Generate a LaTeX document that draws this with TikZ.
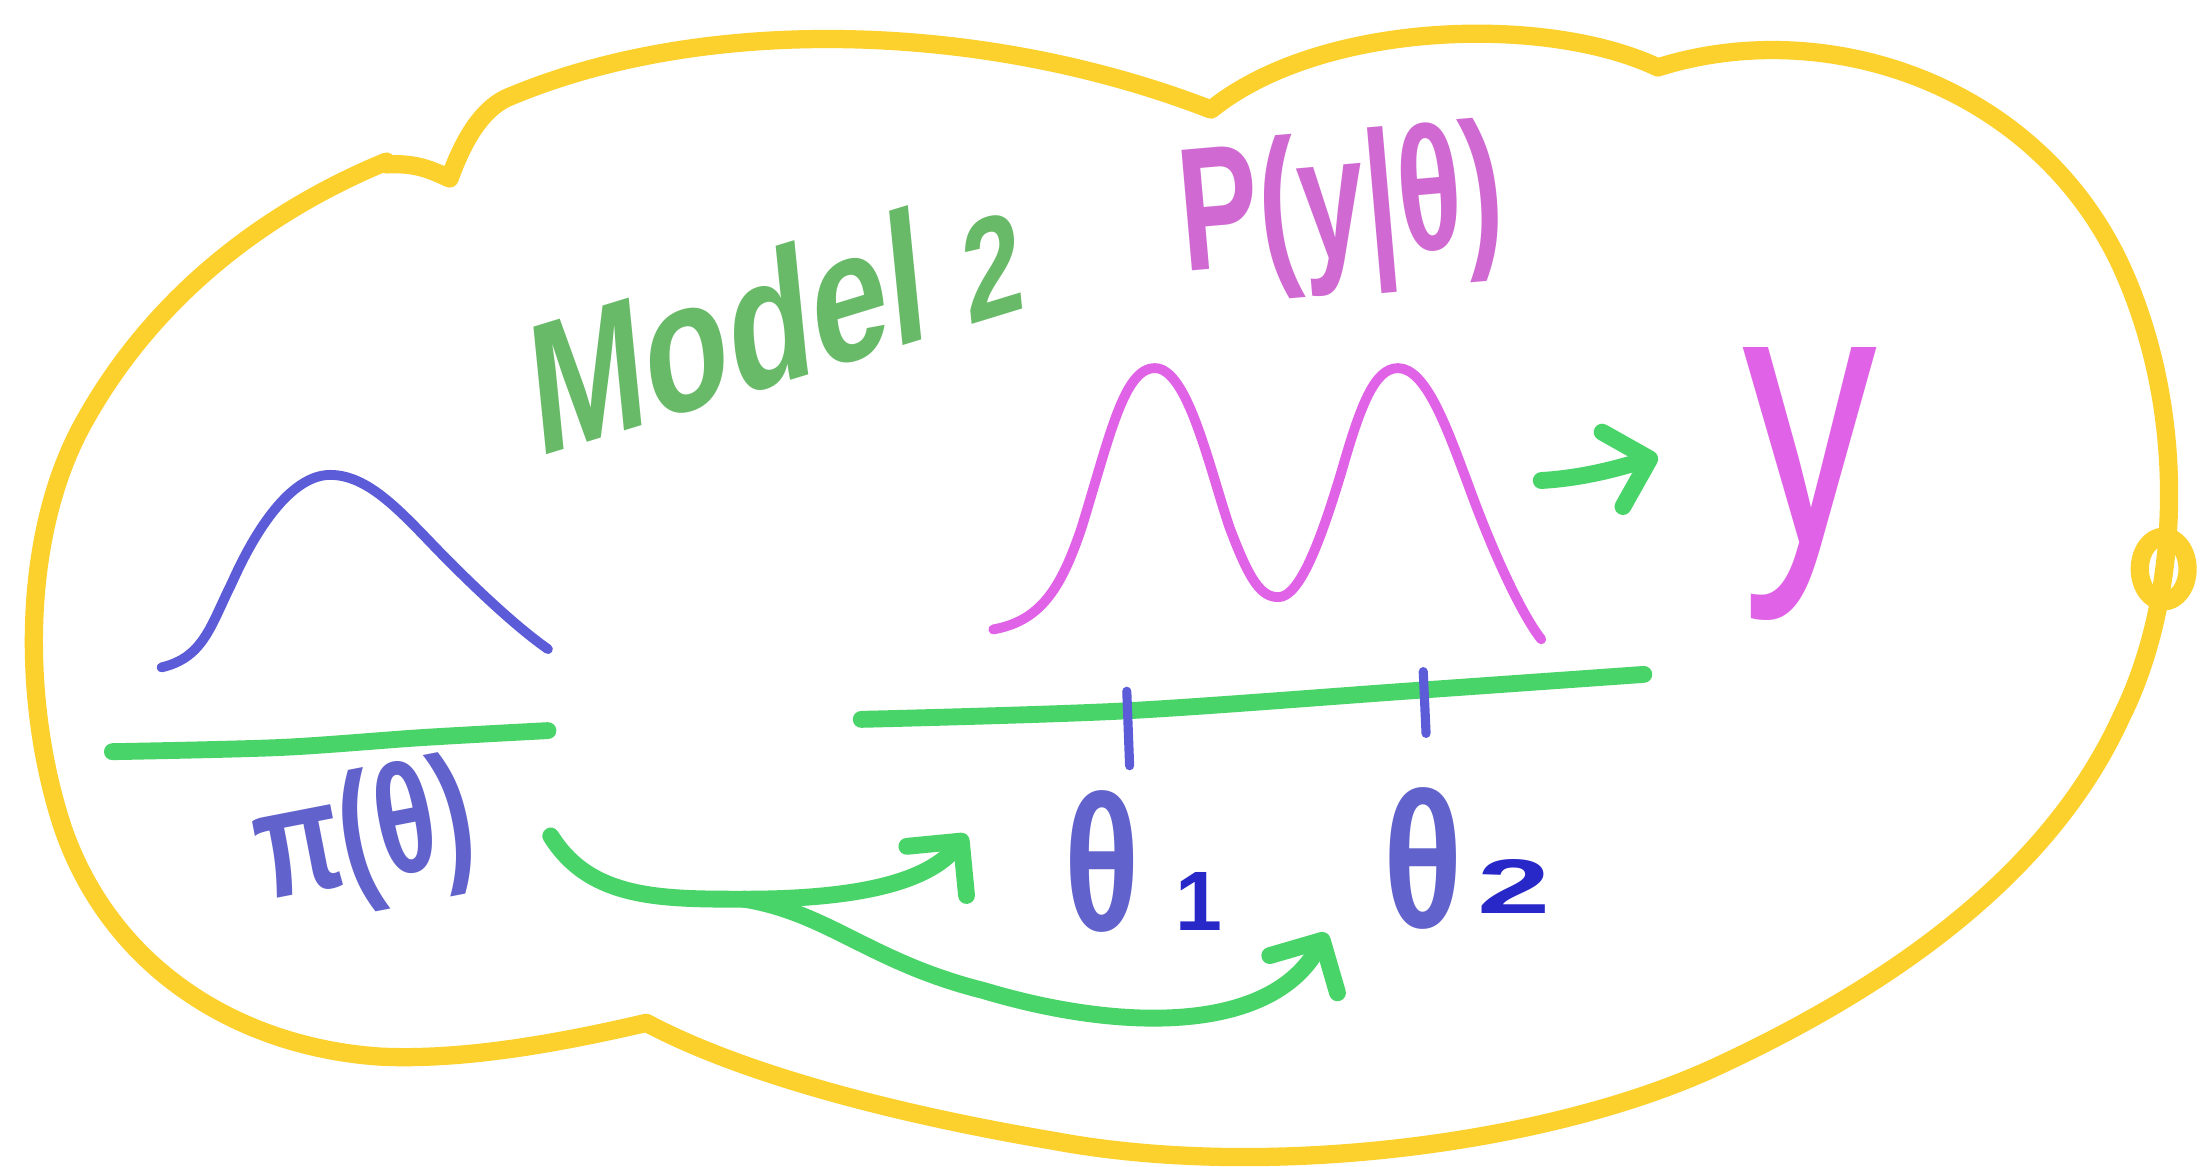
\documentclass[tikz,border=0pt]{standalone}
\usepackage{fontspec}
\setmainfont{Liberation Sans}
\usetikzlibrary{arrows.meta}
\definecolor{cloudyellow}{HTML}{FCD02D}
\definecolor{arrowgreen}{HTML}{48D468}
\definecolor{titlegreen}{HTML}{68BA68}
\definecolor{curveblue}{HTML}{5C5CD8}
\definecolor{textblue}{HTML}{6262CC}
\definecolor{darkblue}{HTML}{2828C8}
\definecolor{curvemag}{HTML}{E062E6}
\definecolor{textmag}{HTML}{D06AD2}
\begin{document}
\begin{tikzpicture}[x=0.01405cm,y=-0.01405cm,line cap=round,line join=round,
  cloudline/.style={draw=cloudyellow,line width=5.2pt},
  flow/.style={draw=arrowgreen,line width=4.8pt},
  flowarrow/.style={flow,-{Straight Barb[length=11pt,width=22pt,line cap=round,line join=round]}},
  bluecurve/.style={draw=curveblue,line width=2.8pt},
  magcurve/.style={draw=curvemag,line width=2.8pt},
  tickmark/.style={draw=curveblue,line width=2.6pt},
  lbl/.style={inner sep=0pt,outer sep=0pt,font=\bfseries}]
\useasboundingbox[fill=white] (0,0) rectangle (1568,830);

% cloud outline
\draw[cloudline]
  (460,728) .. controls (400,742) and (330,755) .. (270,752)
  .. controls (170,745) and (80,690) .. (45,590)
  .. controls (15,500) and (15,380) .. (60,300)
  .. controls (110,210) and (190,150) .. (275,115)
  -- (275,117) .. controls (295,116) and (305,120) .. (320,127)
  .. controls (328,105) and (340,80) .. (360,70)
  .. controls (500,10) and (700,15) .. (862,78)
  .. controls (940,15) and (1100,10) .. (1180,48)
  .. controls (1300,10) and (1450,60) .. (1510,190)
  .. controls (1560,300) and (1550,430) .. (1510,510)
  .. controls (1460,620) and (1350,700) .. (1220,760)
  .. controls (1100,815) and (900,840) .. (750,812)
  .. controls (620,790) and (520,760) .. cycle;
\draw[cloudline] (1540,405) ellipse [x radius=17,y radius=23];

% title and labels
\node[lbl,rotate=17,xslant=0.2] (title) at (552,225) {\color{titlegreen}\scalebox{0.78}[1]{\fontsize{52}{52}\selectfont Model {\fontsize{40}{40}\selectfont 2}}};
\node[lbl,rotate=5] (lik) at (955,152) {\color{textmag}\scalebox{0.68}[1]{\fontsize{50}{50}\selectfont P(y|θ)}};
\node[lbl,rotate=11] (prior) at (260,598) {\color{textblue}\scalebox{0.72}[1]{\fontsize{44}{44}\selectfont π(θ)}};
\node[lbl,anchor=base west] (th1) at (758,662) {\color{textblue}\scalebox{0.72}[1]{\fontsize{55}{55}\selectfont θ}\hspace{10pt}{\fontsize{24}{24}\selectfont\color{darkblue}1}};
\node[lbl,anchor=base west] (th2) at (985,660) {\color{textblue}\scalebox{0.76}[1]{\fontsize{55}{55}\selectfont θ}\hspace{4pt}\raisebox{4pt}{\color{darkblue}\scalebox{1.7}[1]{\fontsize{22}{22}\selectfont 2}}};
\node[inner sep=0pt,anchor=base] (yobs) at (1288,387) {\color{curvemag}\scalebox{1.2}[1.65]{\fontsize{64}{64}\selectfont y}};

% prior curve and axis
\draw[bluecurve] (115,475) .. controls (145,468) and (150,445) .. (165,415)
  .. controls (185,370) and (210,338) .. (235,338)
  .. controls (265,338) and (290,370) .. (320,400)
  .. controls (345,425) and (370,448) .. (390,462);
\draw[flow] plot[smooth] coordinates {(80,535) (200,532) (300,525) (390,520)};

% likelihood curve and axis
\draw[magcurve] (707,448) .. controls (740,442) and (755,420) .. (770,375)
  .. controls (790,310) and (800,262) .. (822,262)
  .. controls (845,262) and (860,330) .. (875,375)
  .. controls (890,415) and (898,425) .. (910,425)
  .. controls (925,425) and (940,385) .. (955,335)
  .. controls (968,290) and (978,262) .. (995,262)
  .. controls (1015,262) and (1030,305) .. (1045,345)
  .. controls (1065,400) and (1085,440) .. (1097,455);
\draw[flow] plot[smooth] coordinates {(613,512) (800,506) (1000,492) (1170,480)};
\draw[tickmark] (802,492) -- (804,545);
\draw[tickmark] (1013,478) -- (1015,522);

% connectors
\coordinate (priorout) at (392,595);
\coordinate (branch) at (530,640);
\coordinate (th1in) at (688,594);
\coordinate (th2in) at (944,664);
\coordinate (likout) at (1097,342);
\coordinate (yin) at (1180,325);
\draw[flow] (priorout) .. controls (420,640) and (470,640) .. (branch);
\draw[flowarrow] (branch) .. controls (610,640) and (660,628) .. (th1in);
\draw[flowarrow] (branch) .. controls (590,650) and (620,685) .. (700,705) .. controls (800,735) and (905,735) .. (th2in);
\draw[flowarrow] (likout) .. controls (1130,340) and (1155,332) .. (yin);
\end{tikzpicture}
\end{document}
